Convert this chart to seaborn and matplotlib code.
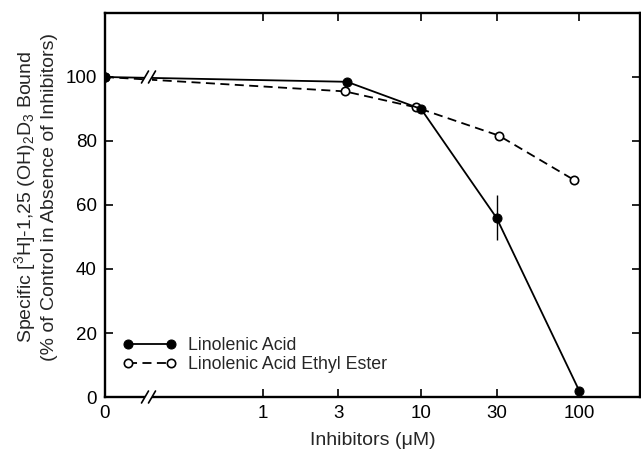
import numpy as np
import pandas as pd
import matplotlib
matplotlib.use("Agg")
import matplotlib.pyplot as plt
import seaborn as sns
from matplotlib.patches import Rectangle

# values
la_conc = [0, 3.4, 10, 30, 100]
la_bound = [100, 98.5, 90, 56, 2]
la_err = [0, 0, 0, 7, 0]

ester_conc = [0, 3.3, 9.3, 31, 93]
ester_bound = [100, 95.5, 90.5, 81.7, 67.8]

tick_vals = [0, 1, 3, 10, 30, 100]
tick_labels = ["0", "1", "3", "10", "30", "100"]
ytick_vals = [0, 20, 40, 60, 80, 100]

sns.set_style("ticks")
plt.rcParams["font.family"] = ["Liberation Sans", "DejaVu Sans"]
plt.rcParams["mathtext.default"] = "regular"

#0 is drawn where 0.1 would sit on the log axis
def pos(c):
    c = np.asarray(c, dtype=float)
    return np.where(c == 0, 0.1, c)

la = pd.DataFrame({"x": pos(la_conc), "y": la_bound, "err": la_err})
es = pd.DataFrame({"x": pos(ester_conc), "y": ester_bound})

fig = plt.figure(figsize=(6.41, 4.49), dpi=100)
ax = fig.add_axes([105 / 641, 1 - 397 / 449, 535 / 641, 384 / 449])
ax.set_xscale("log")

sns.lineplot(data=es, x="x", y="y", ax=ax, sort=False, color="black", lw=1.3,
             marker="o", markersize=6, markerfacecolor="white", markeredgecolor="black",
             markeredgewidth=1.2, dashes=False, label="Linolenic Acid Ethyl Ester",
             linestyle=(0, (5, 3)), zorder=3)
sns.lineplot(data=la, x="x", y="y", ax=ax, sort=False, color="black", lw=1.3,
             marker="o", markersize=6.5, markerfacecolor="black", markeredgecolor="black",
             label="Linolenic Acid", zorder=4)
ebar = la[la["err"] > 0]
ax.errorbar(ebar["x"], ebar["y"], yerr=ebar["err"], fmt="none", ecolor="black",
            elinewidth=1.0, capsize=0, zorder=4)

ax.set_xlim(0.1, 10 ** 2.385)
ax.set_ylim(0, 120)
ax.set_xticks(pos(tick_vals))
ax.set_xticklabels(tick_labels)
ax.xaxis.set_minor_locator(matplotlib.ticker.NullLocator())
ax.set_yticks(ytick_vals)
ax.tick_params(axis="both", which="major", direction="in", length=6, width=1.2,
               labelsize=13.5, pad=6, top=True, right=True, colors="black")
for s in ax.spines.values():
    s.set_linewidth(1.7)
    s.set_color("black")

ax.set_xlabel("Inhibitors (\u03bcM)", fontsize=14, labelpad=7)
ax.set_ylabel("Specific [$^3$H]-1,25 (OH)$_2$D$_3$ Bound\n(% of Control in Absence of Inhibitors)",
              fontsize=14, linespacing=1.2)
ax.yaxis.set_label_coords(-0.088, 0.52)

#axis break marks
W, H = 535.0, 384.0
for yb in [0.0, 100 / 120]:
    ax.add_patch(Rectangle(((145 - 105) / W, yb - 5 / H), 7 / W, 10 / H,
                           transform=ax.transAxes, facecolor="white", edgecolor="none",
                           clip_on=False, zorder=6))
    for xc in [145, 152]:
        xf = (xc - 105) / W
        ax.plot([xf - 3.5 / W, xf + 3.5 / W], [yb - 6 / H, yb + 6 / H], transform=ax.transAxes,
                color="black", lw=1.2, clip_on=False, zorder=7)

h, l = ax.get_legend_handles_labels()
order = [l.index("Linolenic Acid"), l.index("Linolenic Acid Ethyl Ester")]
ax.legend([h[i] for i in order], [l[i] for i in order], loc="lower left",
          bbox_to_anchor=(0.017, 0.04), frameon=False, numpoints=2, handlelength=3.0,
          handletextpad=0.65, labelspacing=0.1, fontsize=12.8, borderpad=0)

fig.savefig("out.png", dpi=100)
